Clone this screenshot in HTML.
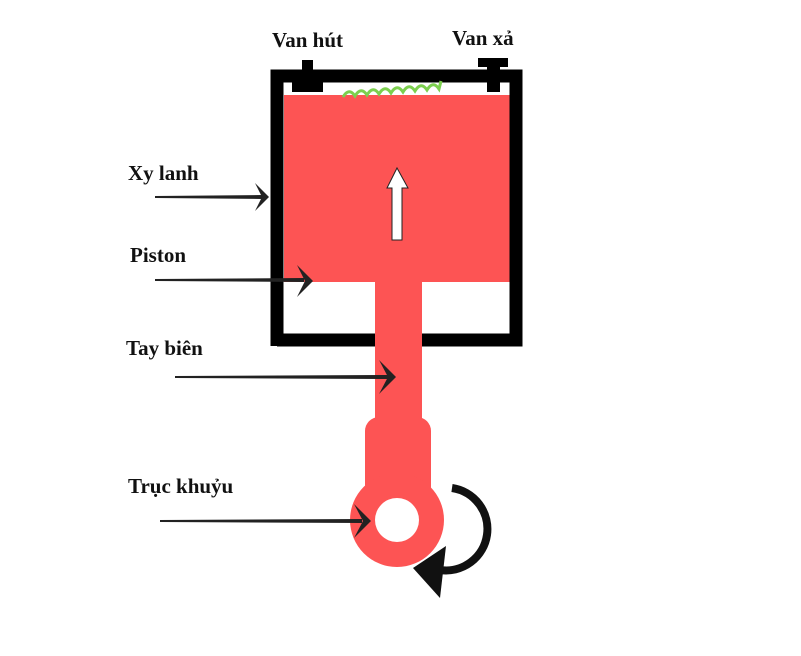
<!DOCTYPE html>
<html><head><meta charset="utf-8"><style>
body{margin:0;background:#fff;}
svg text{font-family:"Liberation Serif",serif;font-weight:bold;font-size:21px;fill:#111;}
</style></head><body>
<svg width="801" height="651" viewBox="0 0 801 651">
<rect width="801" height="651" fill="#fff"/>
<rect x="284" y="95" width="226" height="187" fill="#fd5454"/>
<path d="M277,346 V76 H516 V340 H277" fill="none" stroke="#000" stroke-width="13"/>
<rect x="302" y="60" width="11" height="32" fill="#000"/>
<rect x="292" y="82" width="31" height="10" fill="#000"/>
<rect x="478" y="58" width="30" height="9" fill="#000"/>
<rect x="487" y="58" width="13" height="34" fill="#000"/>
<path d="M343,97 q6,-10 12,-1 q6,-10 12,-1 q6,-10 12,-1 q6,-10 12,-1 q6,-10 12,-1 q6,-10 12,-1 q6,-10 12,-1 q6,-10 12,-1 l2,-8" fill="none" stroke="#7ccf4e" stroke-width="3"/>
<rect x="375" y="280" width="47" height="160" fill="#fd5454"/>
<rect x="365" y="417" width="66" height="90" rx="14" fill="#fd5454"/>
<circle cx="397" cy="520" r="47" fill="#fd5454"/>
<circle cx="397" cy="520" r="22" fill="#fff"/>
<path d="M392,240 V188 H387 L397,168 L408,188 H402 V240 Z" fill="#fff" stroke="#222" stroke-width="1"/>
<path d="M452,488 A40,40 0 0 1 440,570" fill="none" stroke="#111" stroke-width="8"/>
<path d="M413,568 L446,546 L440,598 Z" fill="#111"/>
<g fill="#222">
<path d="M155,196 L262,195 L262,199 L155,198 Z"/>
<path d="M255,183 L269,197 L255,211 L262,197 Z"/>
<path d="M155,279 L304,278 L304,282 L155,281 Z"/>
<path d="M297,265 L313,281 L297,297 L305,281 Z"/>
<path d="M175,376 L388,375 L388,379 L175,378 Z"/>
<path d="M379,360 L396,377 L379,394 L388,377 Z"/>
<path d="M160,520 L362,519 L362,523 L160,522 Z"/>
<path d="M354,504 L371,521 L354,538 L363,521 Z"/>
</g>
<text x="272" y="47">Van hút</text>
<text x="452" y="45">Van xả</text>
<text x="128" y="180">Xy lanh</text>
<text x="130" y="262">Piston</text>
<text x="126" y="355">Tay biên</text>
<text x="128" y="493">Trục khuỷu</text>
</svg>
</body></html>
